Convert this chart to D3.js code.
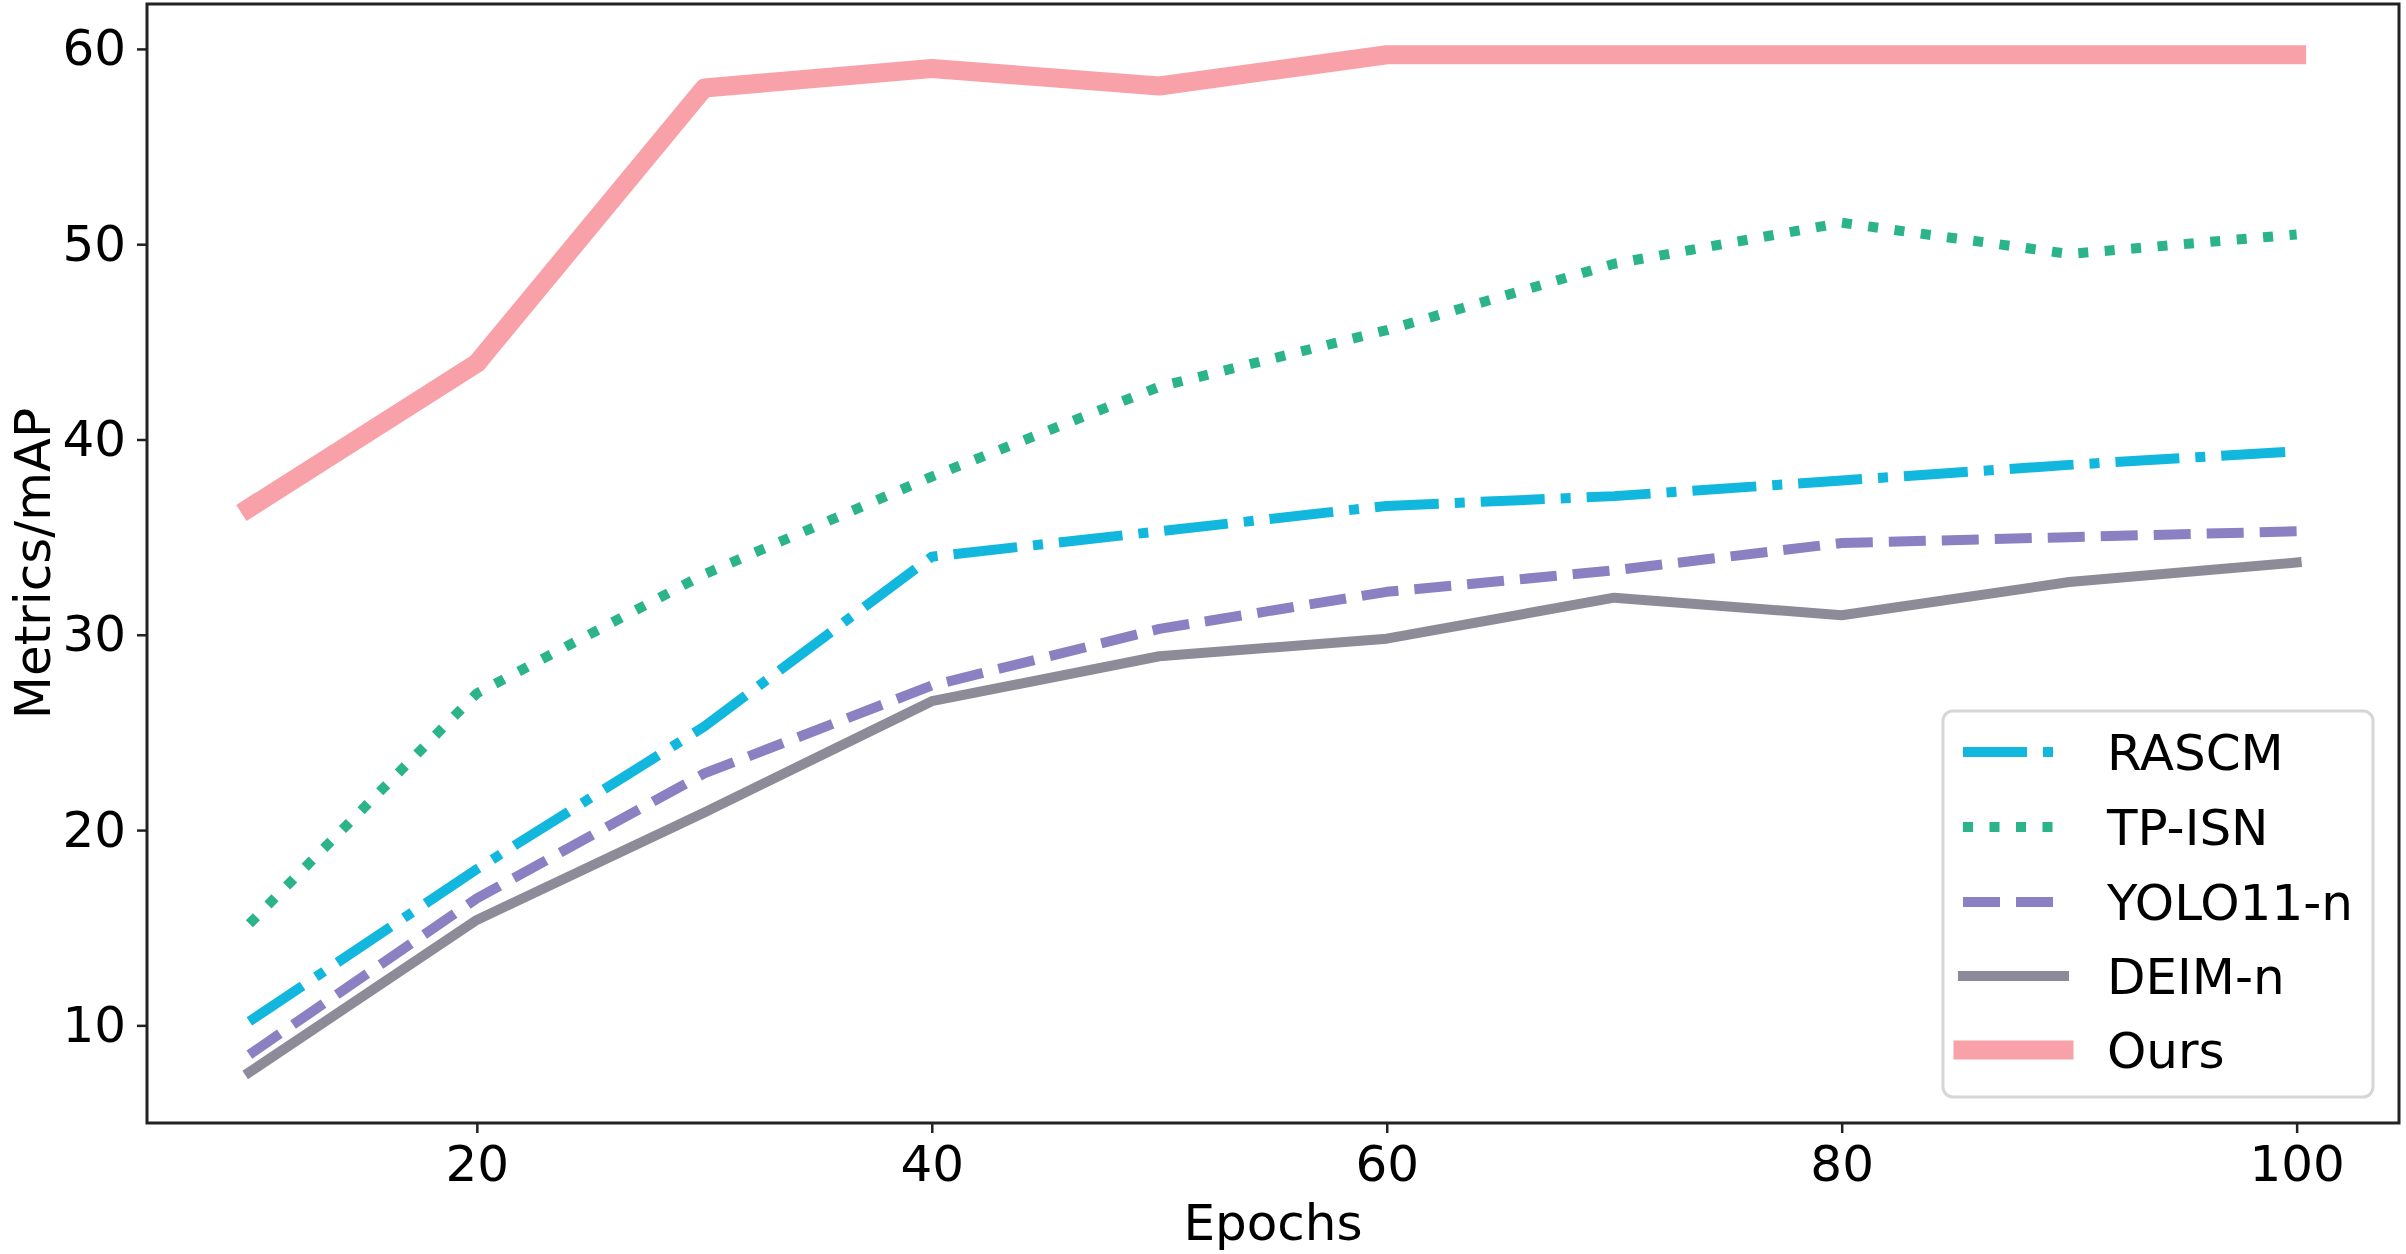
<!DOCTYPE html>
<html>
<head>
<meta charset="utf-8">
<script src="https://cdn.jsdelivr.net/npm/d3@7"></script>
<style>
    html, body { margin: 0; padding: 0; background: #fff; }
    text { font-family: "DejaVu Sans", sans-serif; fill: #000; }
</style>
</head>
<body>
<svg id="chart"></svg>
<script>
// epochs on the x axis
var epochs = [10, 20, 30, 40, 50, 60, 70, 80, 90, 100];

// mAP per method
var rascm = [10.2, 18.0, 25.3, 34.0, 35.3, 36.6, 37.1, 37.9, 38.7, 39.4];
var tpIsn = [15.2, 27.0, 33.1, 38.1, 42.7, 45.6, 49.0, 51.1, 49.5, 50.5];
var yolo11n = [8.5, 16.5, 22.9, 27.4, 30.3, 32.2, 33.3, 34.7, 35.0, 35.3];
var deimN = [7.6, 15.4, 20.9, 26.6, 28.9, 29.8, 31.9, 31.0, 32.7, 33.7];
var ours = [36.5, 43.9, 58.0, 59.0, 58.1, 59.7, 59.7, 59.7, 59.7, 59.7];

var seriesNames = ["RASCM", "TP-ISN", "YOLO11-n", "DEIM-n", "Ours"];

// tick labels
var xTicks = [20, 40, 60, 80, 100];
var yTicks = [10, 20, 30, 40, 50, 60];

window.onload = function()
{
    main();
};

function main()
{
    var W = 2406,
        H = 1254,
        box = { left: 147, top: 4, right: 2399, bottom: 1123 },
        svg = d3.select("#chart")
            .attr("width", W)
            .attr("height", H),

        // matplotlib style auto limits (5% margin)
        x = d3.scaleLinear().domain([5.5, 104.5]).range([box.left, box.right]),
        y = d3.scaleLinear().domain([5.0, 62.3]).range([box.bottom, box.top]),

        // style per series, same order as the names
        styles = [
            { color: "#12b7de", width: 10, dash: "64,16,10,16", cap: "butt" },
            { color: "#2bb48a", width: 10, dash: "10,16.5", cap: "butt" },
            { color: "#8a80c2", width: 10, dash: "37,16", cap: "butt" },
            { color: "#8d8b97", width: 10, dash: null, cap: "square" },
            { color: "#f8a1a8", width: 19, dash: null, cap: "square" }
        ],
        allValues = [rascm, tpIsn, yolo11n, deimN, ours];

    _drawAxes(svg, x, y, box);
    _drawLines(svg, x, y, allValues, styles);
    _drawLegend(svg, styles);
}

// frame, ticks and labels
function _drawAxes(svg, x, y, box)
{
    var xAxis = svg.append("g")
            .attr("transform", "translate(0," + box.bottom + ")")
            .call(d3.axisBottom(x).tickValues(xTicks).tickSize(10).tickPadding(12)),
        yAxis = svg.append("g")
            .attr("transform", "translate(" + box.left + ",0)")
            .call(d3.axisLeft(y).tickValues(yTicks).tickSize(10).tickPadding(11));

    [xAxis, yAxis].forEach(function(g)
    {
        g.select(".domain").remove();
        g.selectAll(".tick line").attr("stroke", "#222").attr("stroke-width", 2.5);
        g.selectAll(".tick text")
            .attr("font-size", 50)
            .attr("font-family", "DejaVu Sans")
            .attr("fill", "#000");
    });

    // tick labels sit a bit lower in the reference
    xAxis.selectAll(".tick text").attr("dy", "0.71em");

    svg.append("rect")
        .attr("x", box.left)
        .attr("y", box.top)
        .attr("width", box.right - box.left)
        .attr("height", box.bottom - box.top)
        .attr("fill", "none")
        .attr("stroke", "#222")
        .attr("stroke-width", 3);

    svg.append("text")
        .attr("x", (box.left + box.right) / 2)
        .attr("y", 1240)
        .attr("text-anchor", "middle")
        .attr("font-size", 50)
        .text("Epochs");

    svg.append("text")
        .attr("transform", "translate(50," + (box.top + box.bottom) / 2 + ") rotate(-90)")
        .attr("text-anchor", "middle")
        .attr("font-size", 50)
        .text("Metrics/mAP");
}

// one path per method
function _drawLines(svg, x, y, allValues, styles)
{
    var line = d3.line()
        .x(function(d, i) { return x(epochs[i]); })
        .y(function(d) { return y(d); });

    allValues.forEach(function(values, i)
    {
        var s = styles[i];
        svg.append("path")
            .datum(values)
            .attr("d", line)
            .attr("fill", "none")
            .attr("stroke", s.color)
            .attr("stroke-width", s.width)
            .attr("stroke-dasharray", s.dash)
            .attr("stroke-linecap", s.cap)
            .attr("stroke-linejoin", "round");
    });
}

// legend box bottom right
function _drawLegend(svg, styles)
{
    var lg = svg.append("g"),
        rowY = [752, 827, 902, 976, 1050];

    lg.append("rect")
        .attr("x", 1943)
        .attr("y", 711)
        .attr("width", 430)
        .attr("height", 386)
        .attr("rx", 10)
        .attr("fill", "#fff")
        .attr("stroke", "#d6d6d6")
        .attr("stroke-width", 3);

    seriesNames.forEach(function(name, i)
    {
        var s = styles[i];
        lg.append("line")
            .attr("x1", 1963)
            .attr("x2", 2064)
            .attr("y1", rowY[i])
            .attr("y2", rowY[i])
            .attr("stroke", s.color)
            .attr("stroke-width", s.width)
            .attr("stroke-dasharray", s.dash)
            .attr("stroke-linecap", s.cap);

        lg.append("text")
            .attr("x", 2107)
            .attr("y", rowY[i] + 18)
            .attr("font-size", 50)
            .text(name);
    });
}
</script>
</body>
</html>
